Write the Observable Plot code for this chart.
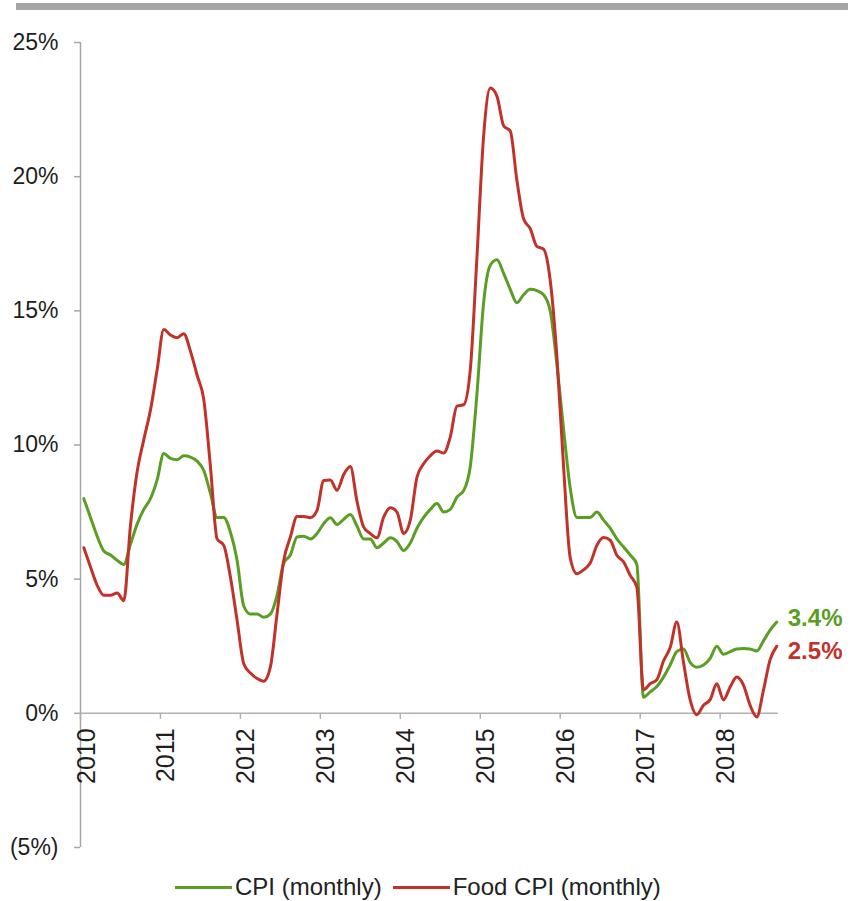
<!DOCTYPE html>
<html>
<head>
<meta charset="utf-8">
<script src="https://cdn.jsdelivr.net/npm/d3@7"></script>
<script src="https://cdn.jsdelivr.net/npm/@observablehq/plot@0.6"></script>
<style>
  body { margin: 0; background: #fff; font-family: "Liberation Sans", Arial, sans-serif; }
  #wrap { position: relative; width: 850px; height: 901px; overflow: hidden; }
  #bar { position: absolute; left: 16px; top: 3px; width: 832px; height: 6.5px; background: #a6a6a6; }
  #chart { position: absolute; left: 0; top: 0; }
  #legend { position: absolute; left: 175px; top: 873px; display: flex; align-items: center; font-size: 24px; color: #222; line-height: 28px; white-space: nowrap; }
  #legend .sw { display: inline-block; width: 57px; height: 3px; margin-right: 3px; }
  #legend .item { display: flex; align-items: center; margin-right: 11px; }
</style>
</head>
<body>
<div id="wrap">
  <div id="chart"></div>
  <div id="bar"></div>
  <div id="legend"></div>
</div>
<script>
// ---- data (monthly, Jan 2010 .. Sep 2018) ----
const startYear = 2010;
const seriesNames = ["CPI (monthly)", "Food CPI (monthly)"];
const seriesColors = ["#5a9e23", "#c1322a"];
const cpi = [
  8.0, 7.3, 6.6, 6.05, 5.9, 5.7, 5.55, 6.3, 7.05, 7.6, 8.0, 8.7,
  9.68, 9.5, 9.45, 9.6, 9.55, 9.4, 9.05, 8.2, 7.3, 7.3, 6.75, 5.7,
  4.0, 3.7, 3.7, 3.58, 3.7, 4.4, 5.6, 5.9, 6.57, 6.6, 6.5, 6.7,
  7.07, 7.29, 7.04, 7.23, 7.41, 6.98, 6.5, 6.5, 6.17, 6.35, 6.54, 6.4,
  6.07, 6.35, 6.9, 7.3, 7.6, 7.82, 7.5, 7.6, 8.06, 8.3, 9.2, 11.9,
  15.3, 16.7, 16.9, 16.4, 15.8, 15.3, 15.6, 15.8, 15.75, 15.6, 15.0, 13.0,
  10.6, 8.4, 7.3, 7.3, 7.3, 7.5, 7.2, 6.9, 6.5, 6.2, 5.9, 5.55,
  0.6, 0.8, 1.0, 1.35, 1.8, 2.3, 2.4, 1.9, 1.72, 1.8, 2.05, 2.5,
  2.2, 2.3, 2.4, 2.42, 2.4, 2.32, 2.7, 3.1, 3.4
];
const foodCpi = [
  6.17, 5.45, 4.77, 4.4, 4.4, 4.48, 4.2, 7.0, 9.0, 10.2, 11.3, 12.8,
  14.3, 14.1, 14.0, 14.15, 13.5, 12.6, 11.7, 9.2, 6.5, 6.26, 5.08, 3.47,
  1.85, 1.5, 1.3, 1.2, 1.73, 3.71, 5.7, 6.57, 7.34, 7.34, 7.29, 7.56,
  8.68, 8.7, 8.31, 8.9, 9.2, 7.9, 6.94, 6.7, 6.54, 7.31, 7.66, 7.5,
  6.7, 7.2, 8.8, 9.3, 9.6, 9.78, 9.7, 10.3, 11.45, 11.5, 12.8, 17.0,
  21.5, 23.3, 23.0, 21.9, 21.7, 19.86, 18.43, 18.06, 17.4, 17.3, 16.13, 13.3,
  9.2, 5.8, 5.2, 5.35, 5.6, 6.26, 6.55, 6.45, 5.89, 5.65, 5.14, 4.7,
  0.88, 1.1, 1.25, 1.95, 2.45, 3.4, 1.9, 0.5, -0.05, 0.3, 0.51, 1.1,
  0.5, 0.98, 1.35, 1.05, 0.3, -0.14, 0.86, 2.0, 2.5
];
const xTicks = [2010, 2011, 2012, 2013, 2014, 2015, 2016, 2017, 2018];
const yTicks = [-5, 0, 5, 10, 15, 20, 25];
const xDomain = [2010, 2018.73];
const yDomain = [-5, 25];

// ---- build table ----
const toRows = (vals, name) => vals.map((v, i) => ({ t: startYear + (i + 0.5) / 12, v, s: name }));
const cpiRows = toRows(cpi, seriesNames[0]);
const foodRows = toRows(foodCpi, seriesNames[1]);
const rows = [...cpiRows, ...foodRows];
const fmtY = d => d < 0 ? `(${-d}%)` : `${d}%`;
const tickLen = 6 * (yDomain[1] - yDomain[0]) / 805;
const endLabel = d => `${d.v.toFixed(1)}%`;

const chart = Plot.plot({
  width: 850,
  height: 870,
  marginTop: 42,
  marginBottom: 23,
  marginLeft: 80,
  marginRight: 72,
  style: { fontFamily: "'Liberation Sans', Arial, sans-serif", background: "transparent", overflow: "visible" },
  x: { domain: xDomain, axis: null },
  y: { domain: yDomain, axis: null },
  color: { domain: seriesNames, range: seriesColors },
  marks: [
    Plot.ruleX([xDomain[0]], { y1: yDomain[0], y2: yDomain[1], stroke: "#a6a6a6", strokeWidth: 1.5 }),
    Plot.ruleY([0], { x1: xDomain[0], x2: xDomain[1], stroke: "#b0b0b0", strokeWidth: 1.5 }),
    Plot.axisY({ ticks: yTicks, tickFormat: fmtY, tickSize: 6, tickPadding: 16, fontSize: 23, stroke: "#a6a6a6", fill: "#1e1e1e", strokeWidth: 1.5, label: null }),
    Plot.ruleX(xTicks, { x: d => d, y1: 0, y2: -tickLen, stroke: "#b0b0b0", strokeWidth: 1.5 }),
    Plot.text(xTicks, { x: d => d, y: 0, text: d => String(d), rotate: -90, textAnchor: "end", lineAnchor: "middle", dy: 15, dx: 6, fontSize: 25, fill: "#1e1e1e" }),
    Plot.line(rows, { x: "t", y: "v", z: "s", stroke: "s", strokeWidth: 3, curve: "monotone-x" }),
    Plot.text(cpiRows.slice(-1), { x: "t", y: "v", text: endLabel, fill: "s", textAnchor: "start", dx: 11, dy: -4, fontSize: 24, fontWeight: "bold" }),
    Plot.text(foodRows.slice(-1), { x: "t", y: "v", text: endLabel, fill: "s", textAnchor: "start", dx: 11, dy: 5, fontSize: 24, fontWeight: "bold" })
  ]
});
document.getElementById("chart").appendChild(chart);

// legend
const legend = document.getElementById("legend");
seriesNames.forEach((n, i) => {
  const it = document.createElement("div");
  it.className = "item";
  const sw = document.createElement("span");
  sw.className = "sw";
  sw.style.background = seriesColors[i];
  const tx = document.createElement("span");
  tx.textContent = n;
  it.appendChild(sw); it.appendChild(tx);
  legend.appendChild(it);
});
</script>
</body>
</html>
